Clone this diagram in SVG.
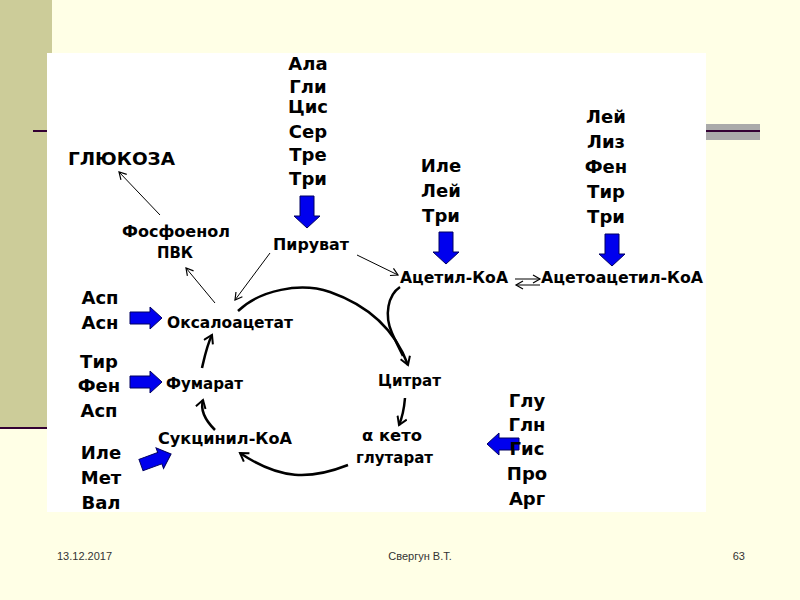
<svg xmlns="http://www.w3.org/2000/svg" width="800" height="600" viewBox="0 0 800 600">
<defs>
<style>
.aa{font:bold 18px "DejaVu Sans",Verdana,sans-serif;fill:#000;text-anchor:middle}
.m{font:bold 15px "DejaVu Sans",Verdana,sans-serif;fill:#000}
.ft{font:11px "Liberation Sans",Arial,sans-serif;fill:#333}
.thin{fill:none;stroke:#000;stroke-width:1}
.thick{fill:none;stroke:#000;stroke-width:2.5}
.blue{fill:#0000ee;stroke:#000060;stroke-width:1}
</style>
<marker id="oa" markerWidth="10" markerHeight="10" refX="8" refY="5" orient="auto" markerUnits="userSpaceOnUse"><path d="M1,1 L8,5 L1,9" fill="none" stroke="#000" stroke-width="1.2"/></marker>
<marker id="ob" markerWidth="12" markerHeight="12" refX="9" refY="6" orient="auto" markerUnits="userSpaceOnUse"><path d="M1,1 L9,6 L1,11" fill="none" stroke="#000" stroke-width="2"/></marker>
<path id="da" d="M-7,0 H7 V20 H13 L0,32 L-13,20 H-7 Z"/>
<path id="ra" d="M0,-6 H20 V-11 L32,0 L20,11 V6 H0 Z"/>
</defs>
<rect width="800" height="600" fill="#ffffe6"/>
<rect x="0" y="0" width="52" height="428" fill="#cccc99"/>
<line x1="0" y1="428" x2="52" y2="428" stroke="#330033" stroke-width="2"/>
<line x1="33" y1="131" x2="52" y2="131" stroke="#330033" stroke-width="2"/>
<rect x="706" y="124" width="54" height="16" fill="#aaaaaa"/>
<line x1="706" y1="131" x2="760" y2="131" stroke="#330033" stroke-width="2"/>
<rect x="47" y="53" width="659" height="459" fill="#fff"/>

<g id="connectors">
<line class="thin" x1="160" y1="215" x2="119" y2="172" marker-end="url(#oa)"/>
<line class="thin" x1="215" y1="303" x2="186" y2="268" marker-end="url(#oa)"/>
<line class="thin" x1="270" y1="253" x2="235" y2="300" marker-end="url(#oa)"/>
<line class="thin" x1="357" y1="255" x2="398" y2="275" marker-end="url(#oa)"/>
<path class="thick" d="M238,311 C260,290 300,282 330,292 C370,306 395,330 408,365" marker-end="url(#ob)"/>
<path class="thick" d="M400,287 C388,295 384,315 392,333 C396,342 400,350 403,356" />
<path class="thick" d="M405,398 C404,410 402,418 399,425" marker-end="url(#ob)"/>
<path class="thick" d="M348,465 C310,480 280,480 240,453" marker-end="url(#ob)"/>
<path class="thick" d="M215,430 C205,420 200,410 203,400" marker-end="url(#ob)"/>
<path class="thick" d="M202,368 C205,355 207,345 212,335" marker-end="url(#ob)"/>
<line class="thin" x1="515" y1="279" x2="540" y2="279" marker-end="url(#oa)"/>
<line class="thin" x1="540" y1="285" x2="516" y2="285" marker-end="url(#oa)"/>
</g>

<g id="arrows-blue">
<use href="#da" class="blue" x="307" y="196"/>
<use href="#da" class="blue" x="446" y="232"/>
<use href="#da" class="blue" x="612" y="234"/>
<use href="#ra" class="blue" x="130" y="318"/>
<use href="#ra" class="blue" x="130" y="382"/>
<use href="#ra" class="blue" x="487" y="444" transform="rotate(180 503 444)"/>
<use href="#ra" class="blue" x="0" y="0" transform="translate(141,465) rotate(-20)"/>
</g>

<g id="aa-pyr"><text class="aa" x="308" y="70">Ала</text><text class="aa" x="308" y="93">Гли</text><text class="aa" x="308" y="113">Цис</text><text class="aa" x="308" y="138">Сер</text><text class="aa" x="308" y="161">Тре</text><text class="aa" x="308" y="185">Три</text></g>
<g id="aa-acetyl"><text class="aa" x="441" y="172">Иле</text><text class="aa" x="441" y="197">Лей</text><text class="aa" x="441" y="222">Три</text></g>
<g id="aa-acetoacetyl"><text class="aa" x="606" y="123">Лей</text><text class="aa" x="606" y="148">Лиз</text><text class="aa" x="606" y="173">Фен</text><text class="aa" x="606" y="198">Тир</text><text class="aa" x="606" y="223">Три</text></g>
<g id="aa-oxal"><text class="aa" x="100" y="304">Асп</text><text class="aa" x="100" y="329">Асн</text></g>
<g id="aa-fum"><text class="aa" x="99" y="368">Тир</text><text class="aa" x="99" y="392">Фен</text><text class="aa" x="99" y="417">Асп</text></g>
<g id="aa-succ"><text class="aa" x="101" y="459">Иле</text><text class="aa" x="101" y="484">Мет</text><text class="aa" x="101" y="509">Вал</text></g>
<g id="aa-akg"><text class="aa" x="527" y="407">Глу</text><text class="aa" x="527" y="431">Глн</text><text class="aa" x="527" y="455">Гис</text><text class="aa" x="527" y="480">Про</text><text class="aa" x="527" y="505">Арг</text></g>

<g id="glucose"><text x="68" y="165" textLength="107" lengthAdjust="spacingAndGlyphs" style="font:bold 18px 'DejaVu Sans',Verdana,sans-serif">ГЛЮКОЗА</text></g>
<g id="pep"><text class="m" x="122" y="237" textLength="108" lengthAdjust="spacingAndGlyphs">Фосфоенол</text><text class="m" x="157" y="258" textLength="36" lengthAdjust="spacingAndGlyphs">ПВК</text></g>
<g id="pyruvate"><text class="m" x="273" y="250" textLength="76" lengthAdjust="spacingAndGlyphs">Пируват</text></g>
<g id="acetylcoa"><text class="m" x="400" y="283" textLength="108" lengthAdjust="spacingAndGlyphs">Ацетил-КоА</text></g>
<g id="acetoacetylcoa"><text class="m" x="541" y="283" textLength="162" lengthAdjust="spacingAndGlyphs">Ацетоацетил-КоА</text></g>
<g id="oxaloacetate"><text class="m" x="167" y="328" textLength="126" lengthAdjust="spacingAndGlyphs">Оксалоацетат</text></g>
<g id="fumarate"><text class="m" x="166" y="389" textLength="77" lengthAdjust="spacingAndGlyphs">Фумарат</text></g>
<g id="succinyl"><text class="m" x="158" y="444" textLength="134" lengthAdjust="spacingAndGlyphs">Сукцинил-КоА</text></g>
<g id="citrate"><text class="m" x="378" y="386" textLength="63" lengthAdjust="spacingAndGlyphs">Цитрат</text></g>
<g id="akg"><text class="m" x="362" y="441" textLength="60" lengthAdjust="spacingAndGlyphs">α кето</text><text class="m" x="356" y="463" textLength="77" lengthAdjust="spacingAndGlyphs">глутарат</text></g>

<text class="ft" x="57" y="560">13.12.2017</text>
<text class="ft" x="420" y="560" text-anchor="middle">Свергун В.Т.</text>
<text class="ft" x="745" y="560" text-anchor="end">63</text>
</svg>
